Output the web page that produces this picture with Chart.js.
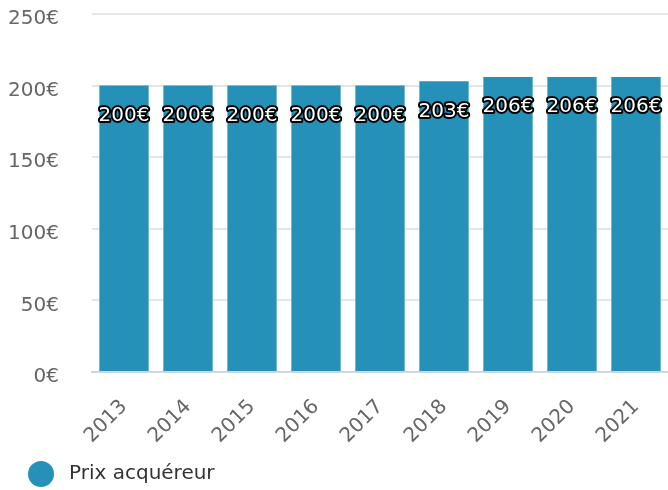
<!DOCTYPE html>
<html lang="fr">
<head>
<meta charset="UTF-8">
<title>Prix acquéreur</title>
<script src="https://cdn.jsdelivr.net/npm/chart.js@4.4.1/dist/chart.umd.min.js"></script>
<style>
    html, body { margin: 0; padding: 0; background: #ffffff; }
    #chartBox { position: relative; width: 668px; height: 490px; }
</style>
</head>
<body>
<div id="chartBox"><canvas id="priceChart"></canvas></div>
<script>
// Chart data
const years = ['2013', '2014', '2015', '2016', '2017', '2018', '2019', '2020', '2021'];
const buyerPrice = [200, 200, 200, 200, 200, 203, 206, 206, 206];
const priceTicks = [0, 50, 100, 150, 200, 250];
const seriesName = 'Prix acquéreur';

const barColor = '#2591b9';
const fontFamily = '"DejaVu Sans", Verdana, sans-serif';

document.addEventListener('DOMContentLoaded', function() {
    initializeChart();
});

// white value with a black outline, a little under the top of each bar
const valueLabels = {
    id: 'valueLabels',
    afterDatasetsDraw(chart) {
        const ctx = chart.ctx;
        const meta = chart.getDatasetMeta(0);
        ctx.save();
        ctx.font = '20px ' + fontFamily;
        ctx.textAlign = 'center';
        ctx.textBaseline = 'middle';
        ctx.lineJoin = 'round';
        ctx.lineWidth = 4;
        ctx.strokeStyle = '#000000';
        ctx.fillStyle = '#ffffff';
        meta.data.forEach((bar, i) => {
            const text = buyerPrice[i] + '€';
            const y = bar.y + 30;
            ctx.strokeText(text, bar.x, y);
            ctx.fillText(text, bar.x, y);
        });
        ctx.restore();
    }
};

function legendDot() {
    const dot = document.createElement('canvas');
    dot.width = 26;
    dot.height = 26;
    const c = dot.getContext('2d');
    c.fillStyle = barColor;
    c.beginPath();
    c.arc(13, 13, 13, 0, Math.PI * 2);
    c.fill();
    return dot;
}

function initializeChart() {
    const ctx = document.getElementById('priceChart').getContext('2d');

    const chartData = {
        labels: years,
        datasets: [{
            label: seriesName,
            data: buyerPrice,
            backgroundColor: barColor,
            borderWidth: 0,
            categoryPercentage: 1,
            barPercentage: 0.77,
            pointStyle: legendDot()
        }]
    };

    const config = {
        type: 'bar',
        data: chartData,
        options: {
            responsive: true,
            maintainAspectRatio: false,
            animation: false,
            layout: {
                // legend sits a bit lower than chart.js puts it
                padding: { left: 9, right: 0, top: 0, bottom: -4 }
            },
            plugins: {
                legend: {
                    display: true,
                    position: 'bottom',
                    align: 'start',
                    labels: {
                        usePointStyle: true,
                        pointStyleWidth: 36,
                        boxHeight: 18,
                        padding: 14,
                        color: '#333333',
                        font: { family: fontFamily, size: 20 }
                    }
                },
                tooltip: { enabled: false }
            },
            scales: {
                x: {
                    grid: { display: false },
                    border: { display: true, color: '#ccd6eb', width: 2 },
                    ticks: {
                        color: '#666666',
                        font: { family: fontFamily, size: 20 },
                        minRotation: 45,
                        maxRotation: 45,
                        padding: 15
                    },
                    afterFit: function(axis) {
                        axis.height = 78;
                        axis.paddingLeft = 0;
                        axis.paddingRight = 0;
                    }
                },
                y: {
                    min: priceTicks[0],
                    max: priceTicks[priceTicks.length - 1],
                    grid: { color: '#e6e6e6', lineWidth: 2, drawTicks: false },
                    border: { display: false },
                    ticks: {
                        stepSize: priceTicks[1] - priceTicks[0],
                        color: '#666666',
                        font: { family: fontFamily, size: 20 },
                        padding: 33,
                        labelOffset: 5,
                        callback: function(value) {
                            return value + '€';
                        }
                    },
                    afterFit: function(axis) {
                        axis.width = 83;
                        axis.paddingTop = 14;
                        axis.paddingBottom = 0;
                    }
                }
            }
        },
        plugins: [valueLabels]
    };

    new Chart(ctx, config);
}
</script>
</body>
</html>
